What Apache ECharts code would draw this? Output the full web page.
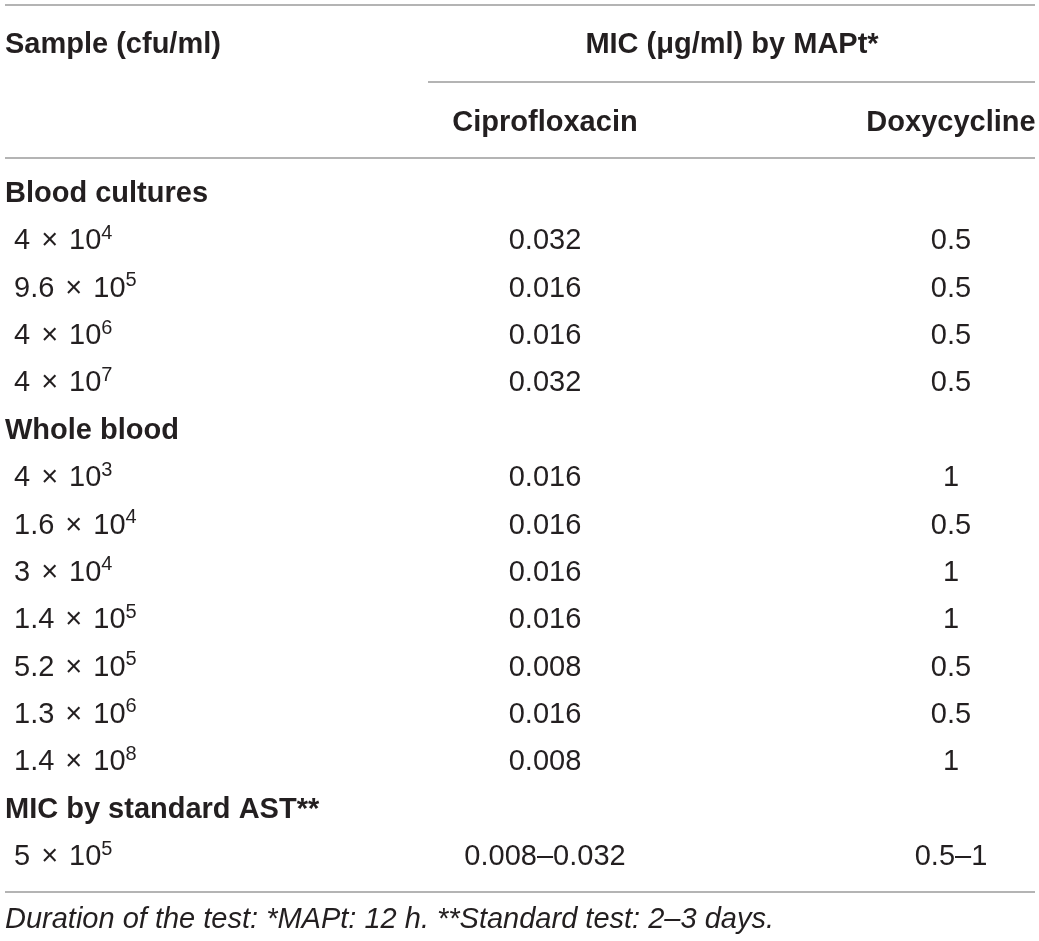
<!DOCTYPE html>
<html>
<head>
<meta charset="utf-8">
<title>MIC table</title>
<script src="https://cdn.jsdelivr.net/npm/echarts@6/dist/echarts.min.js"></script>
<style>
  html, body { margin: 0; padding: 0; background: #fff; }
  #main { width: 1039px; height: 941px; }
</style>
</head>
<body>
<div id="main"></div>
<script>
// table content, one entry per body row
const sampleRows = [
  'Blood cultures',
  '4 × 10^4', '9.6 × 10^5', '4 × 10^6', '4 × 10^7',
  'Whole blood',
  '4 × 10^3', '1.6 × 10^4', '3 × 10^4', '1.4 × 10^5', '5.2 × 10^5', '1.3 × 10^6', '1.4 × 10^8',
  'MIC by standard AST**',
  '5 × 10^5'
]
const groupRows = ['Blood cultures', 'Whole blood', 'MIC by standard AST**']
const ciprofloxacin = ['', '0.032', '0.016', '0.016', '0.032', '', '0.016', '0.016', '0.016', '0.016', '0.008', '0.016', '0.008', '', '0.008–0.032']
const doxycycline = ['', '0.5', '0.5', '0.5', '0.5', '', '1', '0.5', '1', '1', '0.5', '0.5', '1', '', '0.5–1']
const columns = ['Sample (cfu/ml)', 'Ciprofloxacin', 'Doxycycline']
const headerTitle = 'MIC (μg/ml) by MAPt*'
const footnote = 'Duration of the test: *MAPt: 12 h. **Standard test: 2–3 days.'

const FONT = 'Liberation Sans, Arial, Helvetica, sans-serif'
const INK = '#231f20'
const RULE = '#9b9b9b'
const FS = 29

const chart = echarts.init(document.getElementById('main'))

// "4 × 10^4" -> rich text with superscript
function fmtSample(s) {
  let i = s.indexOf('^')
  if (i < 0) return '{t|' + s + '}'
  let base = s.slice(0, i).split(' × ')
  return '{t|' + base[0] + '}{x|×}{t|10}{sup|' + s.slice(i + 1) + '}'
}

const richStyle = {
  t: { fontSize: FS, fontFamily: FONT, color: INK, lineHeight: 36 },
  x: { fontSize: FS, fontFamily: FONT, color: INK, lineHeight: 36, padding: [0, 11, 0, 11] },
  b: { fontSize: FS, fontFamily: FONT, color: INK, lineHeight: 36, fontWeight: 'bold' },
  sup: { fontSize: 20, fontFamily: FONT, color: INK, lineHeight: 28, verticalAlign: 'top' }
}

const sampleData = sampleRows.map((s, i) => {
  let isGroup = groupRows.indexOf(s) >= 0
  return {
    value: [columns[0], i],
    name: s,
    label: { offset: [isGroup ? -134 : -125, 0] }
  }
})

function valueSeries(col, arr) {
  return {
    type: 'scatter',
    symbolSize: 0,
    itemStyle: { color: 'transparent', opacity: 1 },
    label: {
      show: true,
      position: 'inside',
      align: 'center',
      verticalAlign: 'middle',
      opacity: 1,
      formatter: p => '{t|' + arr[p.value[1]] + '}',
      rich: richStyle
    },
    data: arr.map((v, i) => [col, i])
  }
}

const option = {
  animation: false,
  grid: { left: 139, right: 88, top: 170.3, bottom: 60.3 },
  xAxis: {
    type: 'category',
    data: columns,
    boundaryGap: false,
    show: false
  },
  yAxis: {
    type: 'category',
    data: sampleRows.map((s, i) => String(i)),
    inverse: true,
    show: false
  },
  graphic: [
    { type: 'line', shape: { x1: 5, y1: 5, x2: 1035, y2: 5 }, style: { stroke: RULE, lineWidth: 1.5 } },
    { type: 'line', shape: { x1: 428, y1: 82, x2: 1035, y2: 82 }, style: { stroke: RULE, lineWidth: 1.5 } },
    { type: 'line', shape: { x1: 5, y1: 158, x2: 1035, y2: 158 }, style: { stroke: RULE, lineWidth: 1.5 } },
    { type: 'line', shape: { x1: 5, y1: 892, x2: 1035, y2: 892 }, style: { stroke: RULE, lineWidth: 1.5 } },
    {
      type: 'text', x: 5, y: 45,
      style: { text: columns[0], fontSize: FS, fontWeight: 'bold', fontFamily: FONT, fill: INK, align: 'left', verticalAlign: 'middle' }
    },
    {
      type: 'text', x: 732, y: 45,
      style: { text: headerTitle, fontSize: FS, fontWeight: 'bold', fontFamily: FONT, fill: INK, align: 'center', verticalAlign: 'middle' }
    },
    {
      type: 'text', x: 545, y: 123,
      style: { text: columns[1], fontSize: FS, fontWeight: 'bold', fontFamily: FONT, fill: INK, align: 'center', verticalAlign: 'middle' }
    },
    {
      type: 'text', x: 951, y: 123,
      style: { text: columns[2], fontSize: FS, fontWeight: 'bold', fontFamily: FONT, fill: INK, align: 'center', verticalAlign: 'middle' }
    },
    {
      type: 'text', x: 5, y: 920,
      style: { text: footnote, fontSize: FS, fontStyle: 'italic', fontFamily: FONT, fill: INK, align: 'left', verticalAlign: 'middle' }
    }
  ],
  series: [
    {
      type: 'scatter',
      symbolSize: 0,
      itemStyle: { color: 'transparent', opacity: 1 },
      label: {
        show: true,
        position: 'inside',
        align: 'left',
        verticalAlign: 'middle',
        opacity: 1,
        formatter: p => groupRows.indexOf(p.name) >= 0 ? '{b|' + p.name + '}' : fmtSample(p.name),
        rich: richStyle
      },
      data: sampleData
    },
    valueSeries(columns[1], ciprofloxacin),
    valueSeries(columns[2], doxycycline)
  ]
}

chart.setOption(option)
</script>
</body>
</html>
